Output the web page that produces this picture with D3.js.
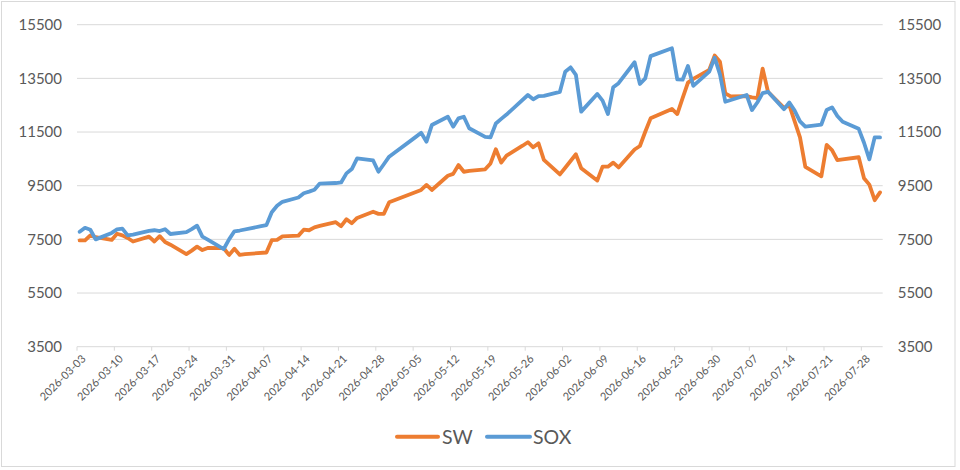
<!DOCTYPE html>
<html>
<head>
<meta charset="utf-8">
<script src="https://cdn.jsdelivr.net/npm/d3@7"></script>
<style>
  html, body { margin: 0; padding: 0; background: #fff; }
  svg text { font-family: Lato, "Open Sans", sans-serif; fill: #595959; }
</style>
</head>
<body>
<svg id="chart" width="960" height="470"></svg>
<script>
// =======================
// data
// =======================
const dates = [
  "03-03","03-04","03-05","03-06",
  "03-09","03-10","03-11","03-12","03-13",
  "03-16","03-17","03-18","03-19","03-20",
  "03-23","03-24","03-25","03-26","03-27",
  "03-30","03-31","04-01","04-02","04-03",
  "04-06","04-07","04-08","04-09","04-10",
  "04-13","04-14","04-15","04-16","04-17",
  "04-20","04-21","04-22","04-23","04-24",
  "04-27","04-28","04-29","04-30","05-01",
  "05-04","05-05","05-06","05-07","05-08",
  "05-11","05-12","05-13","05-14","05-15",
  "05-18","05-19","05-20","05-21","05-22",
  "05-25","05-26","05-27","05-28","05-29",
  "06-01","06-02","06-03","06-04","06-05",
  "06-08","06-09","06-10","06-11","06-12",
  "06-15","06-16","06-17","06-18",
  "06-22","06-23","06-24","06-25","06-26",
  "06-29","06-30","07-01","07-02","07-03",
  "07-06","07-07","07-08","07-09","07-10",
  "07-13","07-14","07-15","07-16","07-17",
  "07-20","07-21","07-22","07-23","07-24",
  "07-27","07-28","07-29","07-30","07-31"
];

// SW (null = no trading that day)
const sw = [
  7460, 7460, 7650, 7580,
  7480, 7710, 7650, 7550, 7420,
  7600, 7420, 7620, 7400, 7300,
  6950, 7080, 7230, 7100, 7180,
  7170, 6920, 7150, 6920, 6950,
  null, 7010, 7470, 7480, 7610,
  7640, 7860, 7840, 7950, 8000,
  8140, 7990, 8250, 8100, 8300,
  8530, 8450, 8450, 8880, null,
  null, null, 9340, 9530, 9340,
  9870, 9940, 10270, 10020, 10050,
  10110, 10330, 10860, 10360, 10620,
  10990, 11120, 10930, 11080, 10460,
  9920, 10170, 10420, 10670, 10150,
  9690, 10210, 10210, 10360, 10180,
  10850, 10980, 11510, 12010,
  12360, 12170, 12760, 13340, 13480,
  13820, 14350, 14120, 12940, 12830,
  12840, 12790, 12760, 13860, 13000,
  12400, 12500, 11900, 11300, 10200,
  9850, 11020, 10830, 10450, 10480,
  10560, 9780, 9540, 8960, 9250
];

// SOX
const sox = [
  7780, 7930, 7860, 7500,
  7740, 7870, 7900, 7650, 7680,
  7820, 7840, 7810, 7880, 7700,
  7770, 7880, 8010, 7600, 7490,
  7140, 7500, 7800, 7830, null,
  7990, 8030, 8510, 8750, 8900,
  9060, 9220, 9280, 9350, 9580,
  9600, 9620, 9960, 10120, 10520,
  10440, 10020, 10300, 10580, 10730,
  11170, 11320, 11470, 11140, 11760,
  12070, 11700, 12010, 12070, 11640,
  11320, 11300, 11820, 11990, 12150,
  null, 12880, 12720, 12840, 12850,
  13000, 13750, 13910, 13630, 12260,
  12920, 12670, 12170, 13170, 13320,
  14100, 13290, 13500, 14330,
  14620, 13460, 13450, 13960, 13220,
  13750, 14270, 13650, 12630, null,
  12880, 12320, 12600, 12950, 13000,
  12350, 12600, 12300, 11900, 11700,
  11780, 12320, 12420, 12100, 11880,
  11620, 11100, 10480, 11300, 11300
];

const yTicks = [3500, 5500, 7500, 9500, 11500, 13500, 15500];
const xTickLabels = [
  "2026-03-03","2026-03-10","2026-03-17","2026-03-24","2026-03-31",
  "2026-04-07","2026-04-14","2026-04-21","2026-04-28","2026-05-05",
  "2026-05-12","2026-05-19","2026-05-26","2026-06-02","2026-06-09",
  "2026-06-16","2026-06-23","2026-06-30","2026-07-07","2026-07-14",
  "2026-07-21","2026-07-28"
];

const seriesList = [
  { name: "SW",  values: sw,  color: "#ED7D31" },
  { name: "SOX", values: sox, color: "#5B9BD5" }
];

// =======================
// scales
// =======================
const parseDay = d3.utcParse("%Y-%m-%d");
const startDay = parseDay("2026-03-03"), endDay = parseDay("2026-07-31");
const dayW = 805.7 / 151;   // one calendar day wide

const x = d3.scaleUtc()
  .domain([startDay, endDay])
  .range([77 + dayW / 2, 77 + dayW * 150.5]);
const y = d3.scaleLinear().domain([3500, 15500]).range([346.7, 24.7]);

const svg = d3.select("#chart");

// chart border
svg.append("rect")
  .attr("x", 1.5).attr("y", 1.5).attr("width", 953.5).attr("height", 465)
  .attr("fill", "none").attr("stroke", "#d9d9d9");

// =======================
// grid + axes
// =======================
svg.append("g").selectAll("line").data(yTicks).join("line")
  .attr("x1", 77).attr("x2", 882.7)
  .attr("y1", d => y(d)).attr("y2", d => y(d))
  .attr("stroke", "#d9d9d9").attr("stroke-width", 1);

const fmt = d3.format("d");

const yLeft = d3.axisLeft(y).tickValues(yTicks).tickFormat(fmt).tickSize(0).tickPadding(15);
svg.append("g").attr("transform", "translate(77,0)").call(yLeft)
  .call(g => g.select(".domain").remove())
  .selectAll("text").attr("font-size", 15).attr("fill", "#595959")
  .attr("font-family", "Lato, sans-serif");

const yRight = d3.axisRight(y).tickValues(yTicks).tickFormat(fmt).tickSize(0).tickPadding(15);
svg.append("g").attr("transform", "translate(882.7,0)").call(yRight)
  .call(g => g.select(".domain").remove())
  .selectAll("text").attr("font-size", 15).attr("fill", "#595959")
  .attr("font-family", "Lato, sans-serif");

// bottom axis: weekly ticks between days, labels rotated
const tickDates = xTickLabels.map(parseDay);
const xAxis = svg.append("g").attr("transform", "translate(0,346.7)");
xAxis.selectAll("line.tick").data(tickDates).join("line")
  .attr("class", "tick")
  .attr("x1", d => x(d) - dayW / 2).attr("x2", d => x(d) - dayW / 2)
  .attr("y1", 0).attr("y2", 4)
  .attr("stroke", "#d9d9d9");
xAxis.selectAll("text").data(tickDates).join("text")
  .attr("transform", d => `translate(${x(d) + 4},10) rotate(-45)`)
  .attr("text-anchor", "end")
  .attr("dy", "0.35em")
  .attr("font-size", 11)
  .text(d => d3.utcFormat("%Y-%m-%d")(d));

// =======================
// lines
// =======================
const line = d3.line()
  .x(d => x(d.date))
  .y(d => y(d.value));

seriesList.forEach(s => {
  const pts = dates
    .map((d, i) => ({ date: parseDay("2026-" + d), value: s.values[i] }))
    .filter(p => p.value != null);
  svg.append("path")
    .datum(pts)
    .attr("fill", "none")
    .attr("stroke", s.color)
    .attr("stroke-width", 3.8)
    .attr("stroke-linejoin", "round")
    .attr("stroke-linecap", "round")
    .attr("d", line);
});

// =======================
// legend
// =======================
const legendPos = [{ x1: 397, x2: 438, tx: 442 }, { x1: 487, x2: 530, tx: 533 }];
const legend = svg.append("g");
seriesList.forEach((s, i) => {
  const p = legendPos[i];
  legend.append("line")
    .attr("x1", p.x1).attr("x2", p.x2).attr("y1", 436.7).attr("y2", 436.7)
    .attr("stroke", s.color).attr("stroke-width", 4).attr("stroke-linecap", "round");
  legend.append("text")
    .attr("x", p.tx).attr("y", 436.7).attr("dy", "0.36em")
    .attr("font-size", 19.5)
    .text(s.name);
});
</script>
</body>
</html>
